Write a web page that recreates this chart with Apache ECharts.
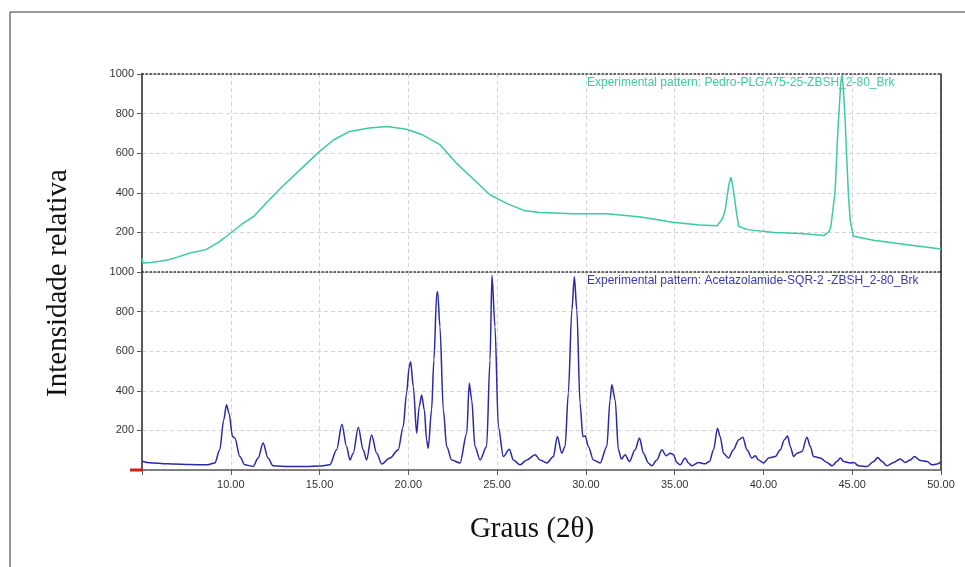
<!DOCTYPE html>
<html>
<head>
<meta charset="utf-8">
<script src="https://cdn.jsdelivr.net/npm/echarts@6/dist/echarts.min.js"></script>
<style>
  html, body { margin: 0; padding: 0; background: #fff; }
  #chart { width: 965px; height: 567px; }
</style>
</head>
<body>
<div id="chart"></div>
<script>
// Pedro-PLGA75-25-ZBSH_2-80_Brk (2θ, intensidade)
var tealAngle = [5.0, 5.05, 5.5, 6.0, 6.5, 7.0, 7.7, 8.6, 9.3, 10.0, 10.6, 11.3, 12.0, 12.9, 13.9, 15.0, 15.8, 16.7, 17.8, 18.8,
  19.9, 20.8, 21.8, 22.7, 23.7, 24.6, 25.5, 26.5, 27.4, 29.3, 31.2, 33.1, 34.9, 36.4, 37.4, 37.7, 37.85, 38.05, 38.17, 38.3,
  38.45, 38.6, 39.1, 40.6, 42.1, 43.4, 43.7, 43.8, 44.0, 44.05, 44.15, 44.23, 44.35, 44.42, 44.5, 44.6, 44.7, 44.79, 44.9, 45.08,
  46.2, 48.1, 50.0];
var tealIntensity = [70, 45, 48, 54, 62, 75, 96, 113, 150, 197, 240, 281, 348, 432, 516, 609, 668, 710, 727, 735,
  721, 693, 642, 550, 466, 390, 348, 311, 301, 294, 294, 278, 251, 237, 234, 270, 315, 440, 479, 420,
  320, 231, 214, 200, 194, 184, 205, 231, 380, 432, 640, 768, 950, 995, 930, 768, 560, 382, 250, 180,
  160, 138, 116];

// Acetazolamide-SQR-2 -ZBSH_2-80_Brk
var blueAngle = [5.0, 5.06, 5.3, 5.62, 6.2, 6.75, 7.7, 8.63, 9.1, 9.38, 9.6, 9.76, 9.9, 10.1, 10.23, 10.51, 10.79, 11.26, 11.54, 11.82,
  12.1, 12.38, 13.3, 14.27, 15.0, 15.58, 15.96, 16.26, 16.52, 16.71, 16.9, 17.18, 17.46, 17.65, 17.93, 18.22, 18.5, 18.96, 19.43, 19.71,
  19.9, 20.05, 20.13, 20.28, 20.47, 20.61, 20.75, 20.9, 21.03, 21.12, 21.31, 21.44, 21.6, 21.65, 21.78, 21.97, 22.16, 22.44, 22.91, 23.29,
  23.43, 23.57, 23.75, 24.04, 24.41, 24.6, 24.71, 24.88, 25.07, 25.35, 25.69, 25.91, 26.29, 26.67, 27.14, 27.42, 27.8, 28.17, 28.39, 28.64,
  28.83, 29.01, 29.21, 29.35, 29.49, 29.67, 29.83, 29.96, 30.14, 30.42, 30.8, 31.18, 31.36, 31.46, 31.65, 31.83, 32.0, 32.21, 32.45, 32.77,
  33.02, 33.24, 33.52, 33.71, 34.0, 34.28, 34.52, 34.75, 34.93, 35.12, 35.31, 35.59, 35.78, 35.97, 36.34, 36.72, 36.96, 37.19, 37.41, 37.56,
  37.75, 38.03, 38.31, 38.6, 38.84, 39.07, 39.35, 39.54, 39.72, 40.01, 40.29, 40.67, 40.95, 41.17, 41.36, 41.51, 41.7, 41.89, 42.17, 42.45,
  42.64, 42.82, 43.2, 43.58, 43.86, 44.14, 44.33, 44.52, 44.89, 45.08, 45.36, 45.83, 46.21, 46.43, 46.68, 46.96, 47.33, 47.71, 47.99, 48.28,
  48.5, 48.84, 49.22, 49.5, 49.78, 49.97];
var blueIntensity = [45, 43, 38, 35, 32, 30, 28, 26, 35, 102, 253, 329, 287, 169, 161, 68, 26, 18, 60, 136,
  60, 21, 18, 18, 20, 26, 102, 231, 119, 51, 85, 216, 102, 51, 177, 85, 30, 60, 102, 219,
  388, 522, 547, 421, 186, 320, 379, 304, 152, 110, 304, 556, 892, 900, 724, 304, 119, 51, 35, 186,
  438, 354, 119, 51, 119, 556, 984, 724, 219, 68, 105, 51, 26, 51, 77, 51, 35, 68, 169, 85,
  119, 388, 808, 976, 808, 337, 169, 172, 119, 51, 35, 119, 354, 430, 354, 102, 55, 77, 43, 102,
  161, 85, 35, 21, 51, 102, 72, 85, 77, 38, 26, 60, 35, 21, 38, 31, 43, 102, 211, 169,
  85, 60, 102, 152, 166, 102, 60, 72, 51, 35, 60, 68, 102, 152, 172, 119, 68, 85, 93, 166,
  119, 68, 60, 38, 21, 43, 60, 43, 35, 38, 21, 18, 43, 63, 43, 21, 38, 56, 38, 51,
  68, 48, 43, 26, 30, 40];

var tealName = 'Experimental pattern: Pedro-PLGA75-25-ZBSH_2-80_Brk';
var blueName = 'Experimental pattern: Acetazolamide-SQR-2 -ZBSH_2-80_Brk';
var xTitle = 'Graus (2θ)';
var yTitle = 'Intensidade relativa';

var tealColor = '#3dcaa2';
var blueColor = '#2a2aa6';

function zip(xs, ys) {
  var out = [];
  for (let i = 0; i < xs.length; i++) {
    out.push([xs[i], ys[i]]);
  }
  return out;
}

var dotted = {show: true, onZero: false, lineStyle: {color: '#333', width: 1.5, type: [1.5, 2.5]}};
var dashedSplit = {show: true, lineStyle: {color: '#d4d4d4', width: 1, type: [4, 3]}};
var tickFont = {color: '#333', fontSize: 11, fontFamily: 'Liberation Sans'};

function valueY(gridIndex) {
  return {
    type: 'value', gridIndex: gridIndex, position: 'left', min: 0, max: 1000, interval: 200,
    axisLine: {show: true, lineStyle: {color: '#5a5a5a', width: 2}},
    axisTick: {show: true, length: 5, lineStyle: {color: '#5a5a5a'}},
    axisLabel: {...tickFont, margin: 8, formatter: function (v) { return v === 0 ? '' : v; }},
    splitLine: dashedSplit
  };
}
function borderY(gridIndex) {
  return {
    type: 'value', gridIndex: gridIndex, position: 'right', min: 0, max: 1000,
    axisLine: {show: true, onZero: false, lineStyle: {color: '#222', width: 1.5}},
    axisTick: {show: false}, axisLabel: {show: false}, splitLine: {show: false}
  };
}

var option = {
  backgroundColor: '#fff',
  animation: false,
  grid: [
    {left: 142, right: 24, top: 74, height: 198},
    {left: 142, right: 24, top: 272, height: 198}
  ],
  xAxis: [
    {type: 'value', gridIndex: 0, position: 'top', min: 5, max: 50, interval: 5,
      axisLine: dotted, axisTick: {show: false}, axisLabel: {show: false}, splitLine: dashedSplit},
    {type: 'value', gridIndex: 1, position: 'bottom', min: 5, max: 50, interval: 5,
      axisLine: {show: true, onZero: false, lineStyle: {color: '#5a5a5a', width: 1.5}},
      axisTick: {show: true, length: 5, lineStyle: {color: '#5a5a5a'}},
      axisLabel: {...tickFont, margin: 9, formatter: function (v) { return v === 5 ? '' : v.toFixed(2); }},
      splitLine: dashedSplit},
    {type: 'value', gridIndex: 1, position: 'top', min: 5, max: 50,
      axisLine: dotted, axisTick: {show: false}, axisLabel: {show: false}, splitLine: {show: false}}
  ],
  yAxis: [valueY(0), borderY(0), valueY(1), borderY(1)],
  series: [
    {name: tealName, type: 'line', xAxisIndex: 0, yAxisIndex: 0, data: zip(tealAngle, tealIntensity),
      showSymbol: false, smooth: false, lineStyle: {color: tealColor, width: 1.5}},
    {name: blueName, type: 'line', xAxisIndex: 1, yAxisIndex: 2, data: zip(blueAngle, blueIntensity),
      showSymbol: false, smooth: 0.3, smoothMonotone: 'x', lineStyle: {color: blueColor, width: 1.5}}
  ],
  graphic: [
    {type: 'line', shape: {x1: 10, y1: 12, x2: 965, y2: 12}, style: {stroke: '#333', lineWidth: 1}},
    {type: 'line', shape: {x1: 10, y1: 12, x2: 10, y2: 567}, style: {stroke: '#333', lineWidth: 1}},
    {type: 'rect', shape: {x: 130, y: 468.5, width: 13, height: 3}, style: {fill: '#d0201c'}, z: 10},
    {type: 'text', left: 587, top: 77, style: {text: tealName, fill: tealColor, font: '12px "Liberation Sans"'}},
    {type: 'text', left: 587, top: 275, style: {text: blueName, fill: '#3838b4', font: '12px "Liberation Sans"'}},
    {type: 'text', x: 532, y: 529, style: {text: xTitle, fill: '#111', font: '29px "Liberation Serif"', align: 'center', verticalAlign: 'middle'}},
    {type: 'text', x: 58, y: 283, rotation: Math.PI / 2, style: {text: yTitle, fill: '#111', font: '29px "Liberation Serif"', align: 'center', verticalAlign: 'middle'}}
  ]
};

var chart = echarts.init(document.getElementById('chart'));
chart.setOption(option);
</script>
</body>
</html>
